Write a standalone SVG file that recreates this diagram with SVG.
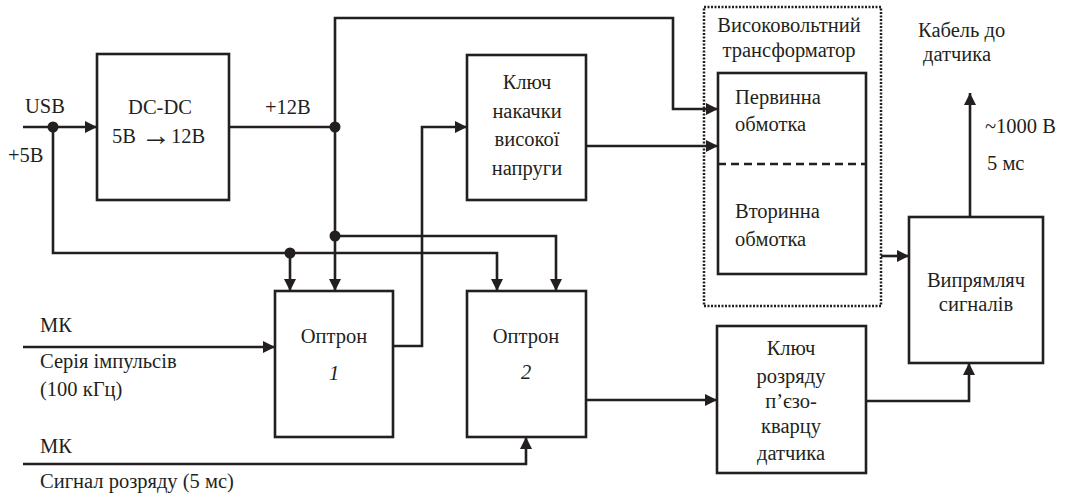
<svg xmlns="http://www.w3.org/2000/svg" width="1070" height="497" viewBox="0 0 1070 497">
<style>
.b{fill:#fff;stroke:#231f20;stroke-width:2.6}
.c{fill:none;stroke:#231f20;stroke-width:2.6}
text{font-family:'Liberation Serif','Times New Roman',Tinos,'Noto Serif','DejaVu Serif',serif;font-size:20.5px;fill:#231f20}
.m{text-anchor:middle}
.i{font-style:italic}
.ar{font-size:30px;font-weight:bold}
</style>
<defs>
<marker id="a" markerUnits="userSpaceOnUse" markerWidth="14" markerHeight="14" refX="12" refY="6" orient="auto" viewBox="0 0 14 12">
<path d="M0,0 L12,6 L0,12 z" fill="#231f20"/>
</marker>
</defs>
<rect width="1070" height="497" fill="#fff"/>
<g id="connectors">
<path class="c" d="M23,127 H97" marker-end="url(#a)"/>
<path class="c" d="M53,127 V253 H497 V291" marker-end="url(#a)"/>
<path class="c" d="M290,253 V291" marker-end="url(#a)"/>
<path class="c" d="M216,127 H335"/>
<path class="c" d="M335,127 V291" marker-end="url(#a)"/>
<path class="c" d="M335,127 V18 H673 V109 H718" marker-end="url(#a)"/>
<path class="c" d="M335,236 H556 V291" marker-end="url(#a)"/>
<path class="c" d="M393,346 H422 V127 H467" marker-end="url(#a)"/>
<path class="c" d="M586,146 H718" marker-end="url(#a)"/>
<path class="c" d="M23,347 H275" marker-end="url(#a)"/>
<path class="c" d="M23,464 H526 V437" marker-end="url(#a)"/>
<path class="c" d="M586,400 H717" marker-end="url(#a)"/>
<path class="c" d="M881,256 H909" marker-end="url(#a)"/>
<path class="c" d="M970,217 V93" marker-end="url(#a)"/>
<path class="c" d="M866,401 H969 V363" marker-end="url(#a)"/>
<circle cx="53" cy="127" r="5.5" fill="#231f20"/>
<circle cx="335" cy="127" r="5.5" fill="#231f20"/>
<circle cx="335" cy="236" r="5.5" fill="#231f20"/>
<circle cx="290" cy="253" r="5.5" fill="#231f20"/>
</g>
<g id="labels">
<text x="25" y="113">USB</text>
<text x="8" y="162">+5В</text>
<text x="265" y="114">+12В</text>
<text x="40" y="332">МК</text>
<text x="40" y="368">Серія імпульсів</text>
<text x="40" y="396">(100 кГц)</text>
<text x="40" y="453">МК</text>
<text x="40" y="488">Сигнал розряду (5 мс)</text>
<text x="918" y="37">Кабель до</text>
<text x="923" y="61">датчика</text>
<text x="985" y="133">~1000 В</text>
<text x="987" y="170">5 мс</text>
</g>
<g id="dcdc">
<rect class="b" x="97" y="54" width="132" height="146"/>
<text class="m" x="160" y="114">DC-DC</text>
<text x="112" y="143">5В <tspan class="ar" dy="2">→</tspan><tspan dy="-2">12В</tspan></text>
</g>
<g id="key-pump">
<rect class="b" x="467" y="55" width="119" height="145"/>
<text class="m" x="527" y="89">Ключ</text>
<text class="m" x="527" y="118">накачки</text>
<text class="m" x="527" y="146">високої</text>
<text class="m" x="527" y="175">напруги</text>
</g>
<g id="transformer">
<rect x="704" y="7" width="177" height="299" fill="none" stroke="#231f20" stroke-width="2.5" stroke-dasharray="2,1.5"/>
<text class="m" x="789" y="32">Високовольтний</text>
<text class="m" x="789" y="57">трансформатор</text>
<rect class="b" x="718" y="73" width="148" height="201"/>
<line x1="718" y1="164" x2="866" y2="164" stroke="#231f20" stroke-width="2.6" stroke-dasharray="8,5"/>
<text x="735" y="104">Первинна</text>
<text x="735" y="131">обмотка</text>
<text x="735" y="218">Вторинна</text>
<text x="735" y="246">обмотка</text>
</g>
<g id="optron1">
<rect class="b" x="275" y="291" width="118" height="146"/>
<text class="m" x="334" y="343">Оптрон</text>
<text class="m i" x="334" y="380">1</text>
</g>
<g id="optron2">
<rect class="b" x="467" y="291" width="119" height="146"/>
<text class="m" x="526" y="343">Оптрон</text>
<text class="m i" x="526" y="379">2</text>
</g>
<g id="key-discharge">
<rect class="b" x="717" y="326" width="149" height="147"/>
<text class="m" x="791" y="355">Ключ</text>
<text class="m" x="791" y="383">розряду</text>
<text class="m" x="791" y="408">п’єзо-</text>
<text class="m" x="791" y="433">кварцу</text>
<text class="m" x="791" y="460">датчика</text>
</g>
<g id="rectifier">
<rect class="b" x="909" y="217" width="134" height="146"/>
<text class="m" x="976" y="287">Випрямляч</text>
<text class="m" x="976" y="311">сигналів</text>
</g>
</svg>
